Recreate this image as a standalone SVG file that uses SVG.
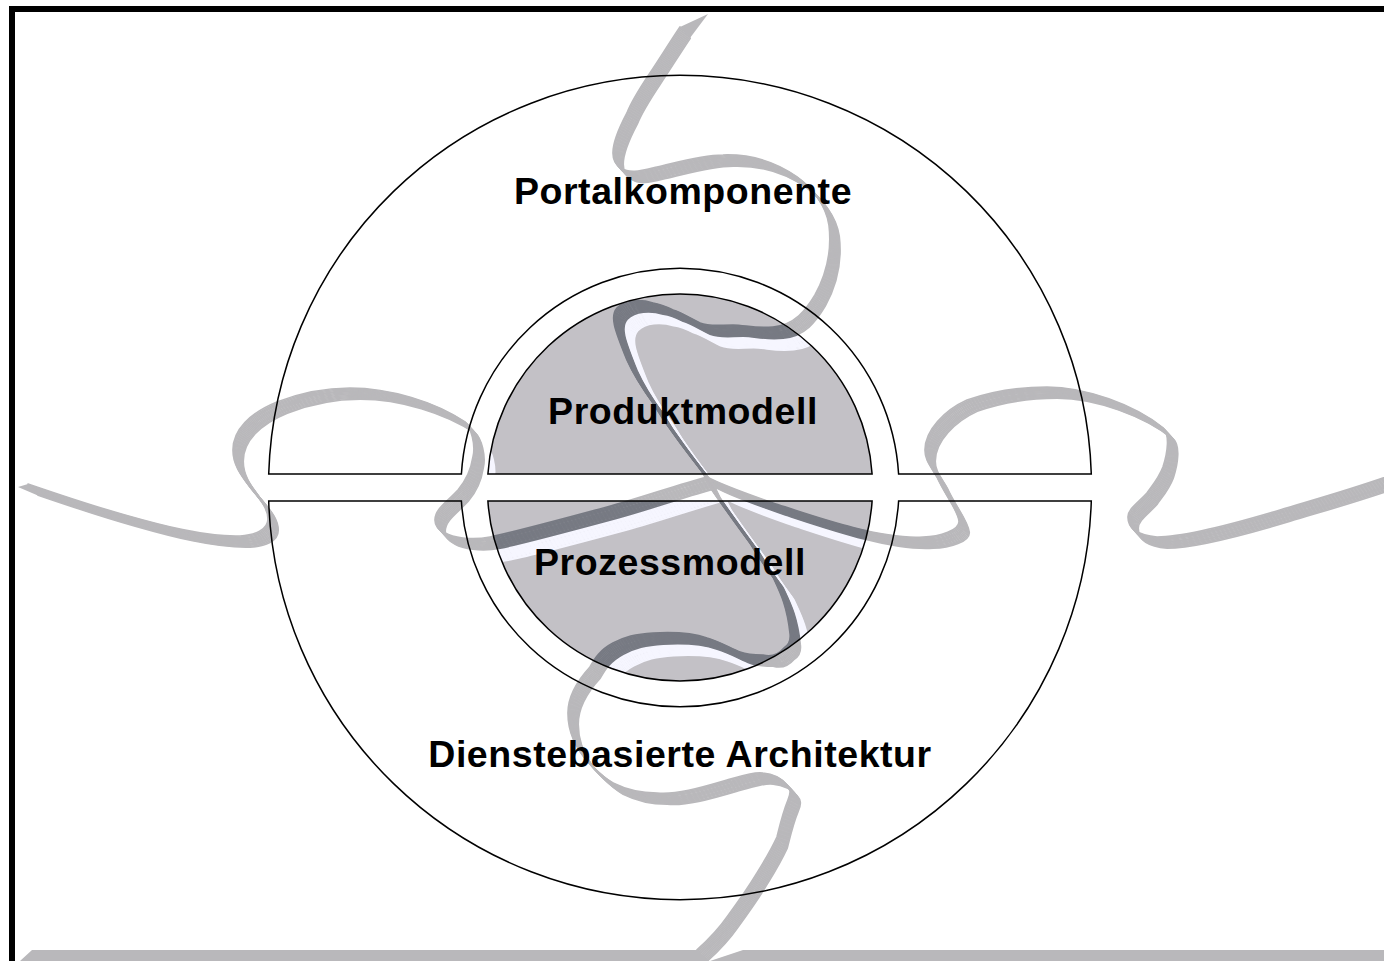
<svg xmlns="http://www.w3.org/2000/svg" width="1384" height="961" viewBox="0 0 1384 961">
<style>
.seam{fill:none;stroke-width:1.7;stroke-linejoin:round;stroke-linecap:round}
.line{stroke:#000;stroke-width:1.5}
.ring{fill:none}
.disc{fill:#c3c1c6}
text{font-family:"Liberation Sans",Arial,sans-serif;font-weight:700;font-size:37.5px;letter-spacing:.56px;fill:#000;text-anchor:middle}
</style>
<defs>
<g id="s">
<path class="seam" d="M28,484 C60,495 100,508 125,515 C160,525 205,537 240,536 C255,535 268,530 268,519 C268,507 258,497 250,487 C240,474 233,464 233,450 C233,430 250,413 277,402 C300,393 325,388 350,388 C390,388 435,402 465,422 C471,427 476,445 473,457 C471,470 465,482 458,490 C447,502 435,509 435,520 C435,526 439,530 445,533 C452,537 470,541 490,537 C510,533 570,517 607,507 C640,498 680,484 707,477 C720,484 750,495 773,503 C810,515 880,540 923,537 C940,537 960,530 959,521 C958,510 945,495 937,477 C930,465 925,460 925,450 C925,430 945,410 967,400 C990,392 1020,387 1047,387 C1085,387 1135,405 1163,428 C1170,434 1168,452 1163,467 C1158,480 1150,488 1147,493 C1138,503 1128,509 1128,517 C1128,527 1135,535 1157,537 C1185,537 1240,522 1280,510 C1320,498 1360,487 1400,472"/>
<path class="seam" d="M680,27 C668,45 660,58 650,73 C640,88 632,100 627,113 C618,130 613,142 613,153 C613,160 616,165 621,168 C630,174 640,171 657,167 C675,163 700,155 723,155 C755,154 780,165 797,177 C812,188 826,205 829,225 C832,250 826,275 815,295 C806,310 795,325 773,327 C755,329 745,325 733,325 C720,325 710,327 700,323 C690,318 680,312 673,310 C665,306 660,304 653,303 C640,299 625,300 617,308 C610,316 614,328 627,360 C635,378 645,392 653,403 C660,415 667,425 673,433 C685,450 695,462 703,473 C705,477 708,483 710,487 C722,505 737,525 750,543 C760,560 768,570 773,577 C780,592 787,605 790,633 C791,640 789,645 784,648 C778,655 770,657 763,655 C755,655 748,655 740,652 C730,648 720,642 707,638 C690,632 670,632 653,633 C635,634 625,637 613,643 C600,650 595,658 590,667 C578,680 568,695 568,713 C568,735 578,752 592,766 C600,774 606,779 613,783 C625,789 640,793 657,793 C675,795 700,788 727,780 C745,775 755,772 763,773 C775,774 782,779 787,785 C791,789 791,793 788,800 C783,812 780,825 777,837 C770,852 765,860 757,873 C748,888 738,902 727,917 C718,930 708,940 697,950"/>
</g>
<g id="seams">
<use href="#s"/>
<use href="#s" transform="translate(.85,.93)"/>
<use href="#s" transform="translate(1.7,1.86)"/>
<use href="#s" transform="translate(2.55,2.79)"/>
<use href="#s" transform="translate(3.4,3.72)"/>
<use href="#s" transform="translate(4.25,4.65)"/>
<use href="#s" transform="translate(5.1,5.58)"/>
<use href="#s" transform="translate(5.95,6.51)"/>
<use href="#s" transform="translate(6.8,7.44)"/>
<use href="#s" transform="translate(7.65,8.37)"/>
<use href="#s" transform="translate(8.5,9.3)"/>
<use href="#s" transform="translate(9.35,10.23)"/>
<use href="#s" transform="translate(10.2,11.16)"/>
</g>
<clipPath id="discClip">
<path d="M487.9,474 A192.5,192.5 0 0 1 872.1,474 Z M487.9,501 H872.1 A192.5,192.5 0 0 1 487.9,501 Z"/>
</clipPath>
</defs>
<rect width="1384" height="961" fill="#fff"/>
<g id="connectors">
<g stroke="#b9b8bb"><use href="#seams"/></g>
<path fill="#b9b8bb" d="M708,14 L680,27 L690,38 Z M18,487 L28,484 L39,496 Z M20,961 L32,950 H697 L709,961 Z M710,961 L743,950 H1384 V961 Z"/>
</g>
<g id="produktmodell-disc">
<path class="disc" d="M487.9,474 A192.5,192.5 0 0 1 872.1,474 Z"/>
</g>
<g id="prozessmodell-disc">
<path class="disc" d="M487.9,501 H872.1 A192.5,192.5 0 0 1 487.9,501 Z"/>
</g>
<g id="seams-in-disc" clip-path="url(#discClip)">
<g stroke="#f6f6ff" transform="translate(10.5,11.5)"><use href="#seams"/></g>
<g stroke="#777a83"><use href="#seams"/></g>
</g>
<g id="portalkomponente">
<path class="ring line" d="M268.7,474 A411.5,411.5 0 0 1 1091.3,474 H898.6 A219,219 0 0 0 461.4,474 Z"/>
<text x="683" y="204">Portalkomponente</text>
</g>
<g id="dienstebasierte-architektur">
<path class="ring line" d="M268.7,501 H461.4 A219,219 0 0 0 898.6,501 H1091.3 A411.5,411.5 0 0 1 268.7,501 Z"/>
<text x="680" y="767">Dienstebasierte Architektur</text>
</g>
<g id="produktmodell">
<path class="ring line" d="M487.9,474 A192.5,192.5 0 0 1 872.1,474 Z"/>
<text x="683" y="424">Produktmodell</text>
</g>
<g id="prozessmodell">
<path class="ring line" d="M487.9,501 H872.1 A192.5,192.5 0 0 1 487.9,501 Z"/>
<text x="670" y="575">Prozessmodell</text>
</g>
<g id="frame">
<path d="M9,961 V6 H1384 V12 H15 V961 Z" fill="#000"/>
</g>
</svg>
